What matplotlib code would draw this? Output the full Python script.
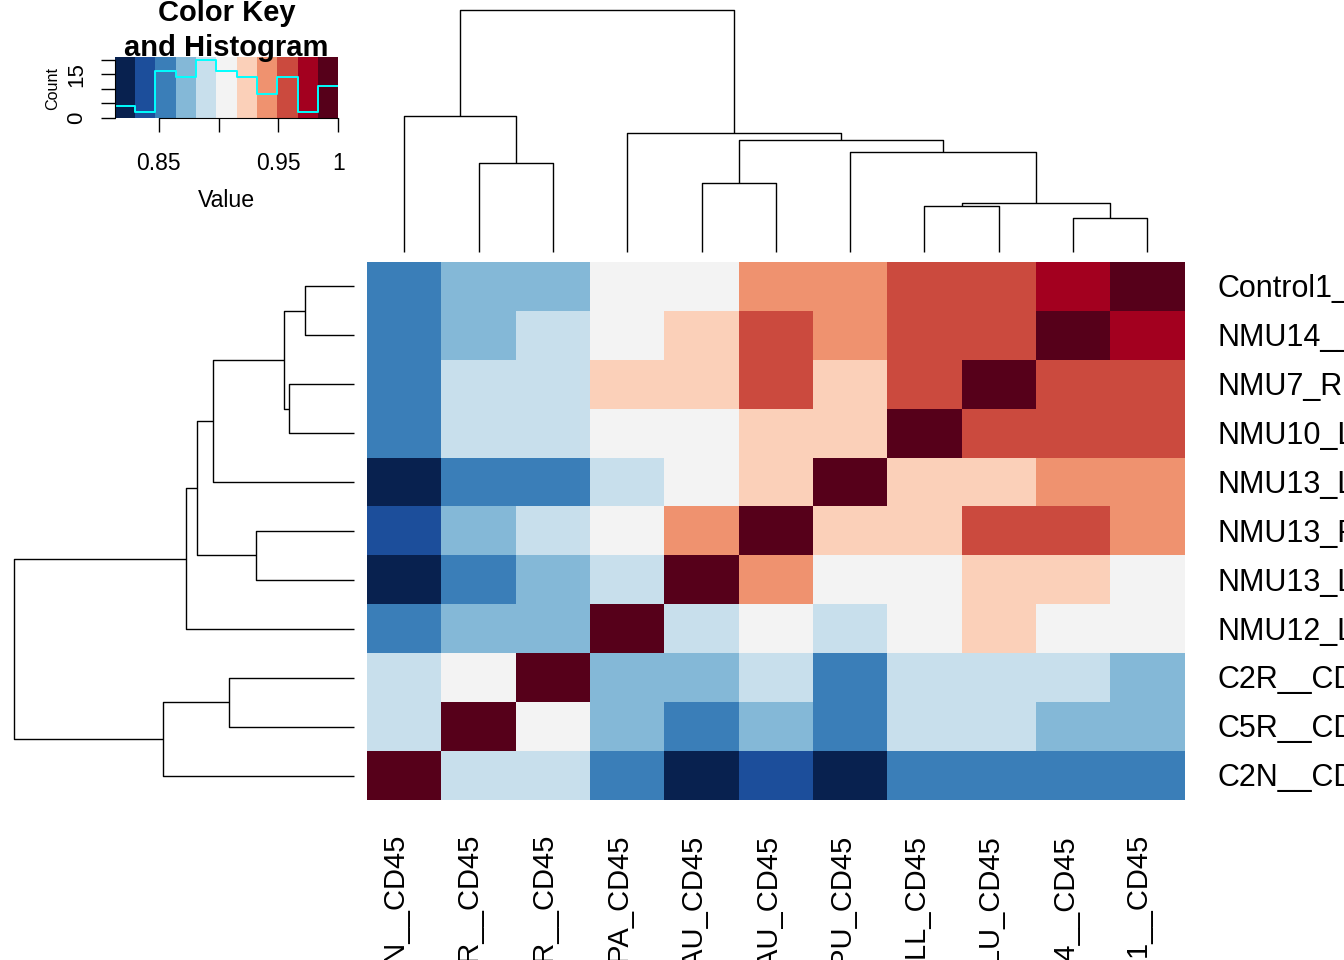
import numpy as np
import matplotlib
matplotlib.use("Agg")
import matplotlib.pyplot as plt
from matplotlib.colors import ListedColormap, BoundaryNorm
from matplotlib.transforms import blended_transform_factory

plt.rcParams['font.family'] = ['Liberation Sans', 'DejaVu Sans']

# samples in row order (top to bottom); columns are the same samples reversed
samples = ["Control1__CD45", "NMU14__CD45", "NMU7_RLU_CD45", "NMU10_LLL_CD45",
           "NMU13_LPU_CD45", "NMU13_RAU_CD45", "NMU13_LAU_CD45", "NMU12_LPA_CD45",
           "C2R__CD45", "C5R__CD45", "C2N__CD45"]
col_order = list(range(10, -1, -1))

# correlation values, rows = samples (row order), cols = samples in col_order
corr = [
    [0.855, 0.872, 0.872, 0.906, 0.906, 0.940, 0.940, 0.957, 0.957, 0.974, 1.000],
    [0.855, 0.872, 0.889, 0.906, 0.923, 0.957, 0.940, 0.957, 0.957, 1.000, 0.974],
    [0.855, 0.889, 0.889, 0.923, 0.923, 0.957, 0.923, 0.957, 1.000, 0.957, 0.957],
    [0.855, 0.889, 0.889, 0.906, 0.906, 0.923, 0.923, 1.000, 0.957, 0.957, 0.957],
    [0.821, 0.855, 0.855, 0.889, 0.906, 0.923, 1.000, 0.923, 0.923, 0.940, 0.940],
    [0.838, 0.872, 0.889, 0.906, 0.940, 1.000, 0.923, 0.923, 0.957, 0.957, 0.940],
    [0.813, 0.855, 0.872, 0.889, 1.000, 0.940, 0.906, 0.906, 0.923, 0.923, 0.906],
    [0.855, 0.872, 0.872, 1.000, 0.889, 0.906, 0.889, 0.906, 0.923, 0.906, 0.906],
    [0.889, 0.906, 1.000, 0.872, 0.872, 0.889, 0.855, 0.889, 0.889, 0.889, 0.872],
    [0.889, 1.000, 0.906, 0.872, 0.855, 0.872, 0.855, 0.889, 0.889, 0.872, 0.872],
    [1.000, 0.889, 0.889, 0.855, 0.813, 0.838, 0.821, 0.855, 0.855, 0.855, 0.855],
]

# hierarchical clustering merges: (node a, node b, height); new nodes numbered from 11
merges = [
    (0, 1, 0.143),
    (2, 3, 0.190),
    (11, 12, 0.205),
    (4, 13, 0.413),
    (5, 6, 0.287),
    (15, 14, 0.461),
    (7, 16, 0.492),
    (8, 9, 0.368),
    (10, 18, 0.562),
    (17, 19, 1.000),
]

colors = ['#08214F', '#1C4E9B', '#3A7EB8', '#84B8D7', '#C8DFEC', '#F3F3F3',
          '#FBD0B9', '#EF926F', '#CB4A3E', '#A3001F', '#56001A']

mat = np.array(corr)
n = len(samples)
breaks = np.linspace(mat.min(), mat.max(), len(colors) + 1)
cmap = ListedColormap(colors)
norm = BoundaryNorm(breaks, len(colors))

W, H = 1344, 960
fig = plt.figure(figsize=(W / 100, H / 100), dpi=100)


def px_rect(l, t, r, b):
    return [l / W, 1 - b / H, (r - l) / W, (b - t) / H]


def dendro_lines(leaf_pos):
    pos = dict(leaf_pos)
    hgt = {k: 0.0 for k in leaf_pos}
    out = []
    for k, (a, b, h) in enumerate(merges):
        node = n + k
        out.append(([pos[a], pos[a], pos[b], pos[b]], [hgt[a], h, h, hgt[b]]))
        pos[node] = (pos[a] + pos[b]) / 2
        hgt[node] = h
    return out


# heatmap
HL, HT, HR, HB = 367.3, 262, 1184.5, 800
ax = fig.add_axes(px_rect(HL, HT, HR, HB))
ax.imshow(mat, cmap=cmap, norm=norm, aspect='auto', interpolation='nearest',
          extent=(0, n, n, 0))
ax.set_xlim(0, n)
ax.set_ylim(n, 0)
ax.set_axis_off()

tr_row = blended_transform_factory(ax.transAxes, ax.transData)
for i, s in enumerate(samples):
    ax.text(1 + 32.5 / (HR - HL), i + 0.72, s, transform=tr_row, fontsize=22,
            ha='left', va='baseline', clip_on=False)

tr_col = blended_transform_factory(ax.transData, ax.transAxes)
for j, s in enumerate(col_order):
    ax.text(j + 0.49, -34 / (HB - HT), samples[s], transform=tr_col, fontsize=21,
            rotation=90, rotation_mode='anchor', ha='right', va='baseline',
            clip_on=False)

# column dendrogram
axc = fig.add_axes(px_rect(HL, 0, HR, HT))
col_pos = {s: j + 0.5 for j, s in enumerate(col_order)}
for xs, ys in dendro_lines(col_pos):
    axc.plot(xs, ys, color='black', lw=1.0, solid_capstyle='butt', clip_on=False)
axc.set_xlim(0, n)
axc.set_ylim(-0.04, 1.04)
axc.set_axis_off()

# row dendrogram
axr = fig.add_axes(px_rect(0, HT, HL, HB))
row_pos = {i: i + 0.5 for i in range(n)}
for xs, ys in dendro_lines(row_pos):
    axr.plot(ys, xs, color='black', lw=1.0, solid_capstyle='butt', clip_on=False)
axr.set_xlim(1.04, -0.04)
axr.set_ylim(n, 0)
axr.set_axis_off()

# color key with histogram
counts, _ = np.histogram(mat.ravel(), bins=breaks)
ytop = counts.max() / 0.95
axk = fig.add_axes(px_rect(114.5, 56.7, 338.3, 117.5))
mids = (breaks[:-1] + breaks[1:]) / 2
axk.pcolormesh(breaks, [0, ytop], mids[None, :], cmap=cmap, norm=norm)
axk.step(breaks, np.append(counts, counts[-1]), where='post', color='cyan', lw=1.4)
axk.set_xlim(breaks[0], breaks[-1])
axk.set_ylim(0, ytop)
axk.set_xticks([0.85, 0.90, 0.95, 1.00])
axk.set_xticklabels(['0.85', '', '0.95', '1'])
axk.set_yticks([0, 5, 10, 15, 20])
axk.set_yticklabels(['0', '', '', '15', ''])
axk.tick_params(axis='x', length=10, width=1, pad=15, labelsize=16.5)
axk.tick_params(axis='y', length=10, width=1, pad=9.5, labelsize=16)
for lab in axk.get_yticklabels():
    lab.set_rotation(90)
    lab.set_va('center')
for side in ['top', 'right']:
    axk.spines[side].set_visible(False)
axk.spines['left'].set_bounds(0, 20)
axk.spines['bottom'].set_bounds(0.85, 1.0)

kx = (114.5 + 338.3) / 2 / W
fig.text(kx, 1 - 21 / H, 'Color Key', ha='center', va='baseline',
         fontsize=21, fontweight='bold')
fig.text(kx, 1 - 55.5 / H, 'and Histogram', ha='center', va='baseline',
         fontsize=21, fontweight='bold')
fig.text(kx, 1 - 207 / H, 'Value', ha='center', va='baseline', fontsize=16.7)
fig.text(53 / W, 1 - 88 / H, 'Count', ha='center', va='center', rotation=90,
         fontsize=11.6)

fig.savefig('out.png', dpi=100)
